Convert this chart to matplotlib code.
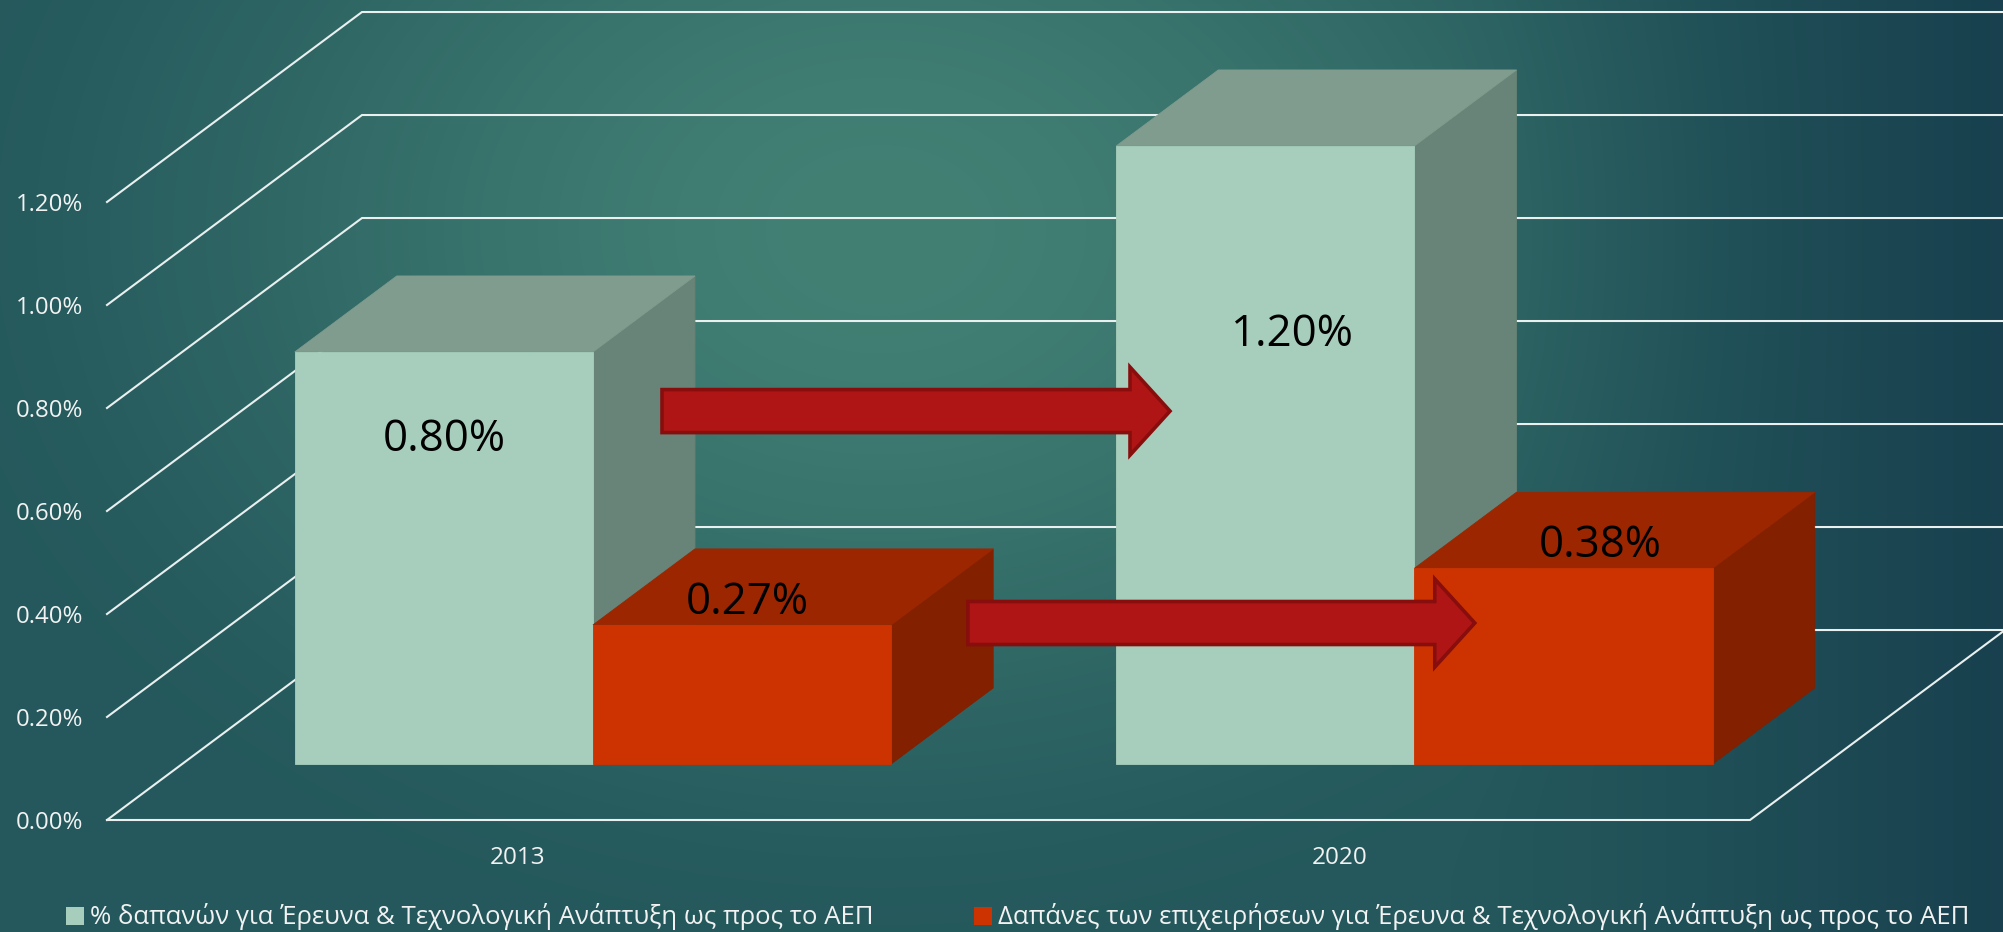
import numpy as np
import matplotlib
matplotlib.use("Agg")
import matplotlib.pyplot as plt
from matplotlib.patches import Polygon, Patch, FancyArrow

# ---------------- data ----------------
years = ["2013", "2020"]
total_rd = [0.80, 1.20]          # % of GDP spent on R&D
business_rd = [0.27, 0.38]       # business R&D spending, % of GDP
series_names = [
    "% δαπανών για Έρευνα & Τεχνολογική Ανάπτυξη ως προς το ΑΕΠ",
    "Δαπάνες των επιχειρήσεων για Έρευνα & Τεχνολογική Ανάπτυξη ως προς το ΑΕΠ",
]
y_ticks = [0.0, 0.2, 0.4, 0.6, 0.8, 1.0, 1.2]
y_tick_labels = ["0.00%", "0.20%", "0.40%", "0.60%", "0.80%", "1.00%", "1.20%"]

# ---------------- style ----------------
W, H, DPI = 2003, 932, 100
FONT = "Open Sans"
GRID_C = "#e9f0ef"
FACE = {  # front, top, side
    0: ("#a7cebc", "#7f9c8e", "#688377"),
    1: ("#cc3300", "#9c2600", "#822000"),
}
ARROW_FC, ARROW_EC = "#b01515", "#880d0d"

# oblique projection: depth 1 shifts by DX categories and DY value units
DX, DY = 0.3104, 0.3689
Z0, BAR_DEPTH, BAR_W = 0.295, 0.40, 0.363
Z1 = Z0 + BAR_DEPTH

# label offsets in pixels (x right, y down) from the front-top centre of each bar
LABEL_OFFSETS = {(0, 0): (0, 88), (0, 1): (5, -22), (1, 0): (27, 189), (1, 1): (37, -23)}
# arrows: (x start, x end, value level) in front-plane data units
ARROWS = [(0.1756, 0.794, 0.794), (0.548, 1.165, 0.3825)]


def proj(x, v, z):
    return (x + z * DX, v + z * DY)


fig = plt.figure(figsize=(W / DPI, H / DPI), dpi=DPI)

# ---------------- background gradient ----------------
yy, xx = np.mgrid[0:H, 0:W].astype(float)
c_in = np.array([66, 128, 116]) / 255.0
c_mid = np.array([36, 88, 92]) / 255.0
c_out = np.array([22, 60, 76]) / 255.0
t = np.sqrt(((xx - 880) / 1050.0) ** 2 + ((yy - 230) / 780.0) ** 2)
t = np.clip(t, 0, 1)
t = t * t * (3 - 2 * t)
img = c_in[None, None, :] * (1 - t[..., None]) + c_mid[None, None, :] * t[..., None]
r = np.clip((xx - 1450) / 553.0, 0, 1) ** 1.3
img = img * (1 - r[..., None] * 0.85) + c_out[None, None, :] * (r[..., None] * 0.85)
bg = fig.add_axes([0, 0, 1, 1], zorder=-10)
bg.imshow(img, extent=(0, W, H, 0), aspect="auto", interpolation="bilinear")
bg.axis("off")

# ---------------- chart axes (front plane of the floor) ----------------
ax = fig.add_axes([107 / W, (H - 820) / H, (1750 - 107) / W, (820 - 202) / H])
ax.set_xlim(-0.5, 1.5)
ax.set_ylim(0, 1.2)
ax.patch.set_alpha(0)
for s in ax.spines.values():
    s.set_visible(False)

# walls: left side diagonals and back-wall gridlines
for v in y_ticks:
    p0 = proj(-0.5, v, 0)
    p1 = proj(-0.5, v, 1)
    p2 = proj(1.5, v, 1)
    ax.plot([p0[0], p1[0], p2[0]], [p0[1], p1[1], p2[1]], color=GRID_C, lw=1.5,
            clip_on=False, zorder=1, solid_joinstyle="miter")
# floor front and right edges
f0, f1, f2 = proj(-0.5, 0, 0), proj(1.5, 0, 0), proj(1.5, 0, 1)
ax.plot([f0[0], f1[0], f2[0]], [f0[1], f1[1], f2[1]], color=GRID_C, lw=1.5,
        clip_on=False, zorder=1, solid_joinstyle="miter")

# ---------------- 3-D bars ----------------
z = 10
for i in range(len(years)):
    for s, vals in enumerate([total_rd, business_rd]):
        v = vals[i]
        x0 = i - BAR_W + s * BAR_W
        x1 = x0 + BAR_W
        front_c, top_c, side_c = FACE[s]
        side = [proj(x1, 0, Z0), proj(x1, 0, Z1), proj(x1, v, Z1), proj(x1, v, Z0)]
        top = [proj(x0, v, Z0), proj(x1, v, Z0), proj(x1, v, Z1), proj(x0, v, Z1)]
        front = [proj(x0, 0, Z0), proj(x1, 0, Z0), proj(x1, v, Z0), proj(x0, v, Z0)]
        for pts, col in ((side, side_c), (top, top_c), (front, front_c)):
            ax.add_patch(Polygon(pts, closed=True, fc=col, ec=col, lw=0.6,
                                 clip_on=False, zorder=z))
            z += 1
        ox, oy = LABEL_OFFSETS[(i, s)]
        ax.annotate(f"{v:.2f}%", xy=proj((x0 + x1) / 2, v, Z0),
                    xytext=(ox * 72 / DPI, -oy * 72 / DPI), textcoords="offset points",
                    ha="center", va="center", fontsize=31.5, family=FONT,
                    color="black", zorder=100, annotation_clip=False)

# ---------------- trend arrows ----------------
for xs, xe, lv in ARROWS:
    ax.add_patch(FancyArrow(xs, lv, xe - xs, 0, width=0.0835, head_width=0.171,
                            head_length=0.0487, length_includes_head=True,
                            fc=ARROW_FC, ec=ARROW_EC, lw=2.6, clip_on=False,
                            zorder=90, joinstyle="miter"))

# ---------------- ticks ----------------
ax.set_yticks(y_ticks)
ax.set_yticklabels(y_tick_labels, family=FONT, fontsize=17.3, color="#f2f2f2")
ax.set_xticks(range(len(years)))
ax.set_xticklabels(years, family=FONT, fontsize=17.5, color="#f2f2f2")
ax.tick_params(axis="y", length=0, pad=17)
ax.tick_params(axis="x", length=0, pad=19)

# ---------------- legend ----------------
handles = [Patch(fc=FACE[s][0], ec="none", label=series_names[s]) for s in range(2)]
fig.legend(handles=handles, loc="center", bbox_to_anchor=(0.508, (H - 917) / H),
           ncol=2, frameon=False, prop={"family": FONT, "size": 18.5},
           labelcolor="#f2f2f2", handlelength=0.7, handleheight=0.7,
           handletextpad=0.25, columnspacing=3.9, borderpad=0.1)

fig.savefig("out.png", dpi=DPI)
